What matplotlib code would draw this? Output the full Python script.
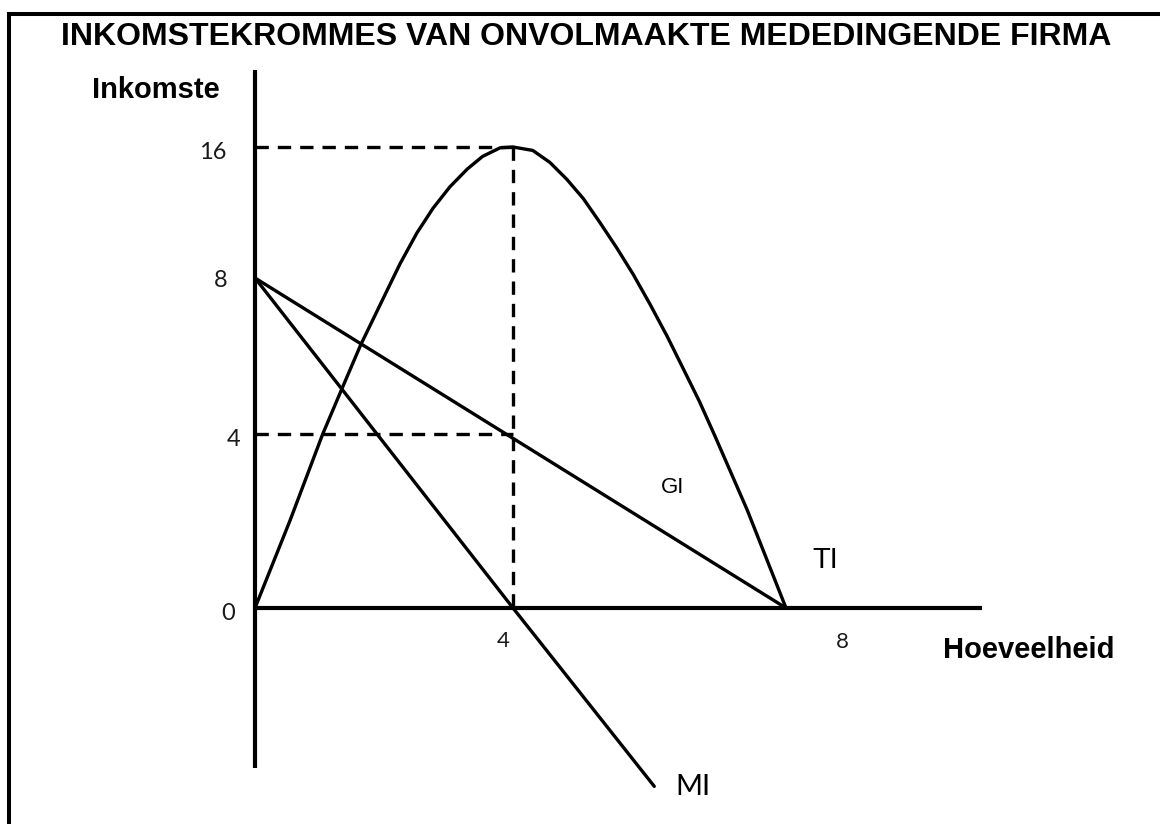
import numpy as np
import matplotlib
matplotlib.use("Agg")
import matplotlib.pyplot as plt
from matplotlib.lines import Line2D

# Quantity (Hoeveelheid) and revenue (Inkomste)
q_ti = [0, 0.54, 1.05, 1.35, 1.64, 1.98, 2.25, 2.51, 2.76, 3.02, 3.29, 3.53, 3.8, 4.0,
        4.29, 4.54, 4.79, 5.03, 5.27, 5.52, 5.76, 6.01, 6.26, 6.49, 6.73, 6.96, 7.43, 8.0]
ti = [0, 2.0, 4.0, 5.17, 6.29, 7.45, 8.88, 10.75, 12.26, 13.56, 14.65, 15.43, 15.95, 16.0,
      15.79, 15.06, 14.02, 12.85, 11.41, 9.84, 8.23, 7.32, 6.5, 5.69, 4.84, 3.95, 2.26, 0]
q_gi = [0, 8]
gi = [8, 0]
q_mi = [0, 4, 6.07]
mi = [8, 0, -4.1]

q_ticks = [4, 8]
q_tick_labels = ["4", "8"]
v_ticks = [0, 4, 8, 16]
v_tick_labels = ["0", "4", "8", "16"]

# point where TI peaks / MI is zero
q_star = 4
ti_max = 16
gi_star = 4

# the sketch is not drawn to scale: piecewise linear axes through the labelled points
x_knots = [0, 4, 8]
x_knot_px = [255, 513, 786]
y_knots = [0, 4, 8, 16]
y_knot_px = [216, 390, 546, 677]


def piecewise(src, dst):
    src = np.asarray(src, float)
    dst = np.asarray(dst, float)
    s0 = (dst[1] - dst[0]) / (src[1] - src[0])
    s1 = (dst[-1] - dst[-2]) / (src[-1] - src[-2])

    def f(v):
        v = np.asarray(v, float)
        out = np.interp(v, src, dst)
        out = np.where(v < src[0], dst[0] + (v - src[0]) * s0, out)
        out = np.where(v > src[-1], dst[-1] + (v - src[-1]) * s1, out)
        return out
    return f


fig = plt.figure(figsize=(11.6, 8.24), dpi=100)
W, H = 1160, 824

ax = fig.add_axes([255 / W, (H - 768) / H, (982 - 255) / W, (768 - 70) / H])
ax.set_xscale("function", functions=(piecewise(x_knots, x_knot_px), piecewise(x_knot_px, x_knots)))
ax.set_yscale("function", functions=(piecewise(y_knots, y_knot_px), piecewise(y_knot_px, y_knots)))
ax.set_xlim(0, float(piecewise(x_knot_px, x_knots)(982)))
ax.set_ylim(float(piecewise(y_knot_px, y_knots)(H - 768)), float(piecewise(y_knot_px, y_knots)(H - 70)))

ax.spines["top"].set_visible(False)
ax.spines["right"].set_visible(False)
ax.spines["bottom"].set_position(("data", 0))
ax.spines["left"].set_position(("data", 0))
for s in ("left", "bottom"):
    ax.spines[s].set_linewidth(3.0)
    ax.spines[s].set_capstyle("butt")
ax.set_xticks([])
ax.set_yticks([])
ax.patch.set_alpha(0)

lw = 2.4
dash = (0, (4.0, 2.7))
ax.plot([0, q_star], [ti_max, ti_max], color="black", lw=lw, linestyle=dash)
ax.plot([0, q_star], [gi_star, gi_star], color="black", lw=lw, linestyle=dash)
ax.plot([q_star, q_star], [ti_max, 0], color="black", lw=lw, linestyle=dash)

ax.plot(q_ti, ti, color="black", lw=lw, solid_joinstyle="round")
ax.plot(q_gi, gi, color="black", lw=lw, solid_capstyle="round")
ax.plot(q_mi, mi, color="black", lw=lw, solid_capstyle="round", clip_on=False)

# tick labels, nudged like in the sketch
y_off = [(-27, -12), (-21, -12), (-34, -9), (-42, -12)]
for v, lbl, (dx, dy) in zip(v_ticks, v_tick_labels, y_off):
    ax.annotate(lbl, xy=(0, v), xytext=(dx, dy), textcoords="offset pixels",
                ha="center", va="baseline", fontsize=17, family="Lato", color="#1a1a1a")
x_off = [(-10, -39), (56, -40)]
for q, lbl, (dx, dy) in zip(q_ticks, q_tick_labels, x_off):
    ax.annotate(lbl, xy=(q, 0), xytext=(dx, dy), textcoords="offset pixels",
                ha="center", va="baseline", fontsize=16, family="Lato", color="#1a1a1a")

sans = "Liberation Sans"
fig.text(586 / W, 1 - 45 / H, "INKOMSTEKROMMES VAN ONVOLMAAKTE MEDEDINGENDE FIRMA",
         ha="center", va="baseline", fontsize=23, fontweight="bold", family=sans)
fig.text(156 / W, 1 - 98 / H, "Inkomste", ha="center", va="baseline",
         fontsize=21, fontweight="bold", family=sans)
fig.text(1029 / W, 1 - 658 / H, "Hoeveelheid", ha="center", va="baseline",
         fontsize=21, fontweight="bold", family=sans)
fig.text(673 / W, 1 - 493 / H, "GI", ha="center", va="baseline", fontsize=16, family=sans)
fig.text(825 / W, 1 - 568 / H, "TI", ha="center", va="baseline", fontsize=21, family=sans)
fig.text(693 / W, 1 - 795 / H, "MI", ha="center", va="baseline", fontsize=21, family="Lato")

# frame: only left and top edges are visible in the crop
fig.add_artist(Line2D([9 / W, 9 / W], [0, 1 - 14 / H], color="black", lw=2.9, solid_capstyle="projecting"))
fig.add_artist(Line2D([9 / W, 1], [1 - 14 / H, 1 - 14 / H], color="black", lw=2.9, solid_capstyle="projecting"))

fig.savefig("out.png", dpi=100)
